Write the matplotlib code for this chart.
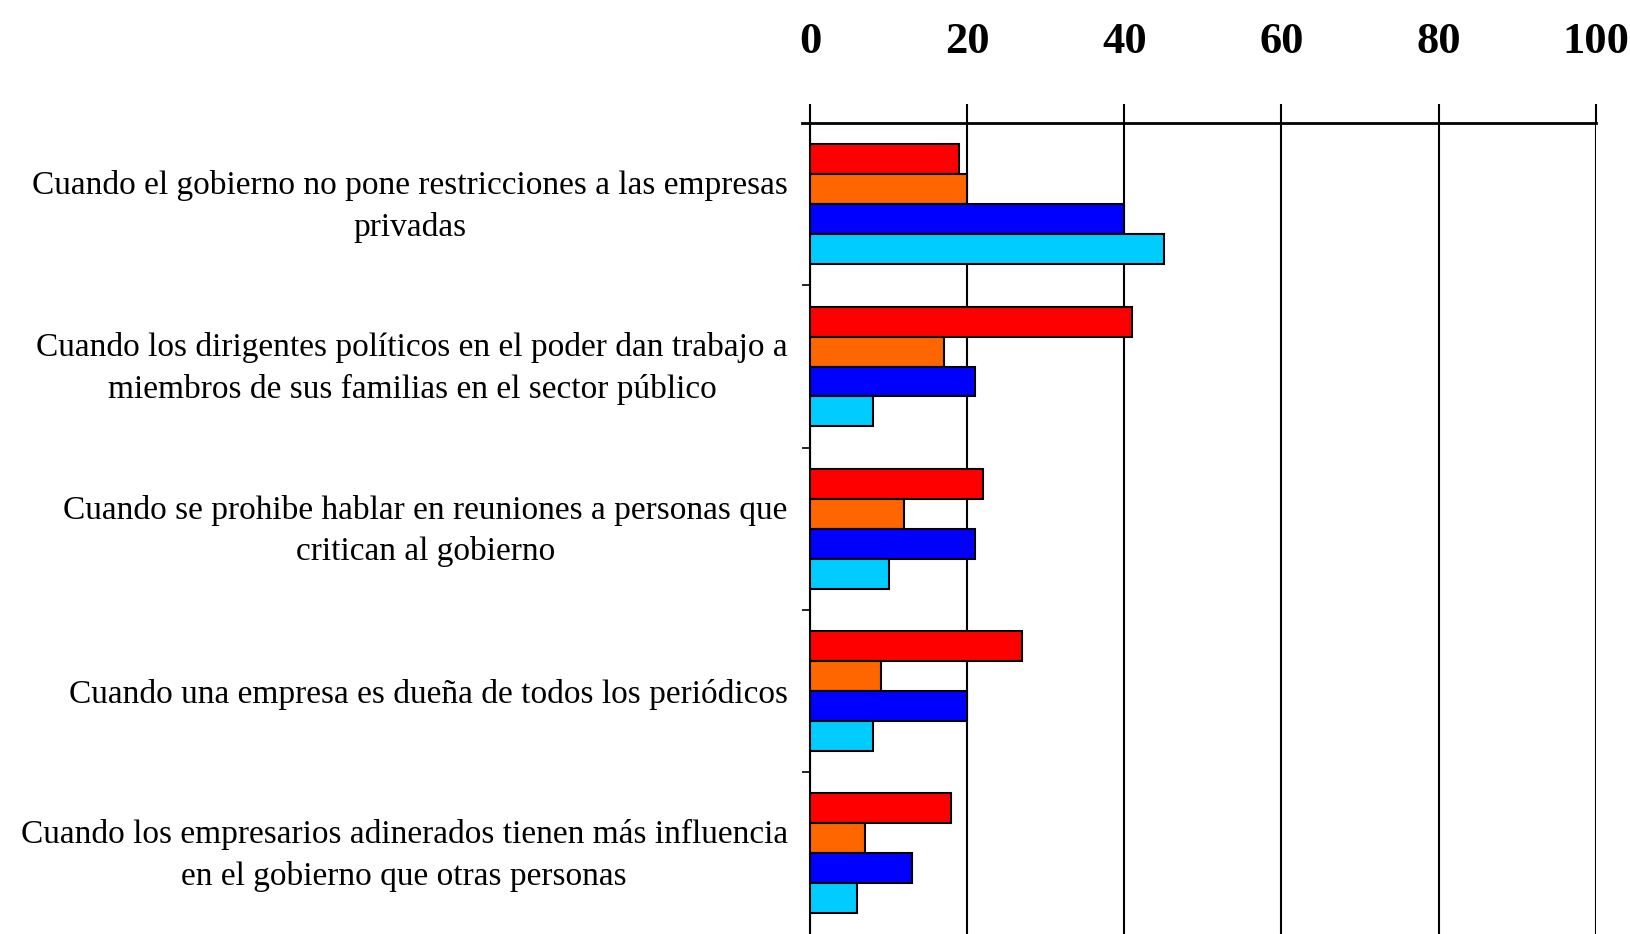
import matplotlib
matplotlib.use('Agg')
import matplotlib.pyplot as plt
import matplotlib.transforms as mtransforms
import numpy as np

categories = [
    "Cuando el gobierno no pone restricciones a las empresas\nprivadas",
    "Cuando los dirigentes políticos en el poder dan trabajo a\nmiembros de sus familias en el sector público",
    "Cuando se prohibe hablar en reuniones a personas que\ncritican al gobierno",
    "Cuando una empresa es dueña de todos los periódicos",
    "Cuando los empresarios adinerados tienen más influencia\nen el gobierno que otras personas",
]
serie_roja = [19, 41, 22, 27, 18]
serie_naranja = [20, 17, 12, 9, 7]
serie_azul = [40, 21, 21, 20, 13]
serie_celeste = [45, 8, 10, 8, 6]
xticks = [0, 20, 40, 60, 80, 100]

series = [serie_roja, serie_naranja, serie_azul, serie_celeste]
colors = ['#FF0000', '#FF6600', '#0000FF', '#00CCFF']

fig = plt.figure(figsize=(16.31, 9.34), dpi=100)
ax = fig.add_axes([0.4966, 0.0, 0.4818, 0.868])
ys = np.arange(len(categories))
h = 0.185
for i, (vals, col) in enumerate(zip(series, colors)):
    ax.barh(ys + (i - 1.5) * h, vals, height=h, color=col,
            edgecolor='black', linewidth=1.5, zorder=3)

ax.set_xlim(0, 100)
ax.set_ylim(len(categories) - 0.5, -0.5)
ax.xaxis.tick_top()
ax.set_xticks(xticks)
ax.set_xticklabels([str(t) for t in xticks], fontfamily='Liberation Serif',
                   fontweight='bold', fontsize=32)
ax.tick_params(axis='x', direction='out', length=14, width=1.5, pad=30)
ax.grid(axis='x', color='black', linewidth=1.5, zorder=1)

for s in ['right', 'bottom']:
    ax.spines[s].set_visible(False)
ax.spines['top'].set_linewidth(2)
ax.spines['left'].set_linewidth(1.5)
ax.plot([-0.01, 0], [1, 1], transform=ax.transAxes, color='black', lw=2,
        clip_on=False)

ax.set_yticks(ys[:-1] + 0.5)
ax.set_yticklabels([''] * (len(categories) - 1))
ax.tick_params(axis='y', which='major', direction='out', length=6, width=1.2)
ax.set_yticks(ys, minor=True)
ax.set_yticklabels(categories, minor=True, fontfamily='Liberation Serif',
                   fontsize=24)
ax.tick_params(axis='y', which='minor', length=0, pad=16)
shift = mtransforms.ScaledTranslation(0, 0.065, fig.dpi_scale_trans)
for lbl in ax.get_yticklabels(minor=True):
    lbl.set_multialignment('center')
    lbl.set_linespacing(1.45)
    if '\n' in lbl.get_text():
        lbl.set_transform(lbl.get_transform() + shift)

fig.savefig('out.png', dpi=100)
